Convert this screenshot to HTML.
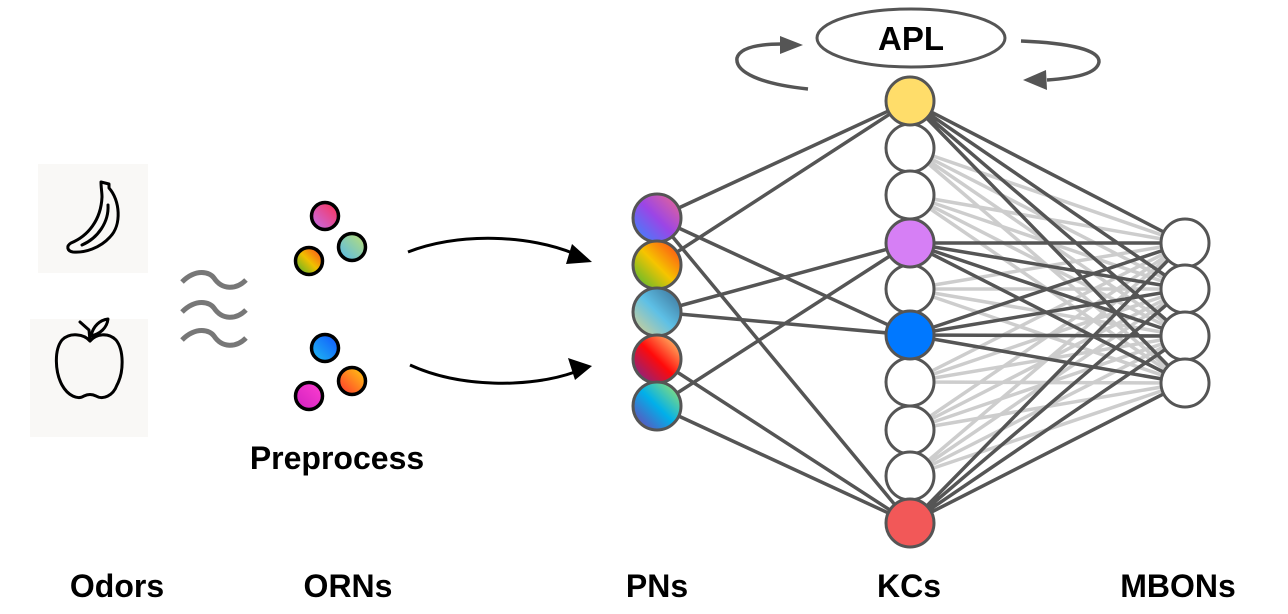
<!DOCTYPE html>
<html><head><meta charset="utf-8"><style>
html,body{margin:0;padding:0;background:#fff;}
svg{display:block;}
text{font-family:"Liberation Sans",Arial,sans-serif;font-weight:bold;fill:#000;}
</style></head><body>
<svg width="1288" height="614" viewBox="0 0 1288 614" xmlns="http://www.w3.org/2000/svg">
<defs>
<linearGradient id="p1" x1="0" y1="1" x2="1" y2="0"><stop offset="0" stop-color="#2f8cff"/><stop offset="0.5" stop-color="#9b45e6"/><stop offset="1" stop-color="#f06a8a"/></linearGradient>
<linearGradient id="p2" x1="0" y1="1" x2="1" y2="0"><stop offset="0" stop-color="#3cb83a"/><stop offset="0.5" stop-color="#f6c400"/><stop offset="1" stop-color="#ff3b1a"/></linearGradient>
<linearGradient id="p3" x1="0" y1="1" x2="1" y2="0"><stop offset="0" stop-color="#e2d28a"/><stop offset="0.5" stop-color="#5ec0e6"/><stop offset="1" stop-color="#3a6a90"/></linearGradient>
<linearGradient id="p4" x1="0" y1="1" x2="1" y2="0"><stop offset="0" stop-color="#6b2aa0"/><stop offset="0.5" stop-color="#ff0a0a"/><stop offset="1" stop-color="#ffe27a"/></linearGradient>
<linearGradient id="p5" x1="0" y1="1" x2="1" y2="0"><stop offset="0" stop-color="#7a3ab0"/><stop offset="0.5" stop-color="#00b0ea"/><stop offset="1" stop-color="#a8e860"/></linearGradient>
<linearGradient id="o1" x1="0" y1="1" x2="1" y2="0"><stop offset="0" stop-color="#c070f0"/><stop offset="1" stop-color="#ff3050"/></linearGradient>
<linearGradient id="o2" x1="0" y1="1" x2="1" y2="0"><stop offset="0" stop-color="#40b030"/><stop offset="0.5" stop-color="#f0c000"/><stop offset="1" stop-color="#ff4020"/></linearGradient>
<linearGradient id="o3" x1="0" y1="1" x2="1" y2="0"><stop offset="0" stop-color="#50b8f0"/><stop offset="1" stop-color="#c0e070"/></linearGradient>
<linearGradient id="o4" x1="0" y1="1" x2="1" y2="0"><stop offset="0" stop-color="#20c0f0"/><stop offset="1" stop-color="#1050ff"/></linearGradient>
<linearGradient id="o5" x1="0" y1="1" x2="1" y2="0"><stop offset="0" stop-color="#ff3030"/><stop offset="1" stop-color="#ffd010"/></linearGradient>
<linearGradient id="o6" x1="0" y1="1" x2="1" y2="0"><stop offset="0" stop-color="#d020c0"/><stop offset="1" stop-color="#ff40d0"/></linearGradient>
</defs>

<rect x="38" y="164" width="110" height="109" fill="#f9f8f6"/>
<rect x="30" y="319" width="118" height="118" fill="#f9f8f6"/>
<g fill="none" stroke="#000" stroke-width="3" stroke-linejoin="round" stroke-linecap="round">
<path d="M101 182 L109 184 L109 188 C120 200 122 225 110 237 C100 248 85 253 73 252 C67 251 66 246 71 243 C88 236 101 220 102 197 C102 192 101 188 101 182 Z"/>
<path d="M108 205 C109 222 98 238 82 245"/>
<path d="M90 341 C84 334 70 332 62 340 C54 350 55 372 62 385 C68 396 78 400 84 396 C88 394 92 394 96 396 C103 400 113 396 117 385 C124 372 124 350 116 340 C108 332 96 334 90 341 Z"/>
<path d="M90 341 L89 330 L80 322"/>
<path d="M91 336 C93 326 100 320 108 319 C107 328 100 334 91 336 Z"/>
</g>
<g fill="none" stroke="#777" stroke-width="5">
<path d="M182 282 C196 268 210 272 214 278 C222 290 236 290 246 280"/>
<path d="M182 312 C196 298 210 302 214 308 C222 320 236 320 246 310"/>
<path d="M182 340 C196 326 210 330 214 336 C222 348 236 348 246 338"/>
</g>
<g stroke="#000" stroke-width="3.5">
<circle cx="325" cy="216" r="13.5" fill="url(#o1)"/>
<circle cx="309" cy="261" r="13.5" fill="url(#o2)"/>
<circle cx="352" cy="247" r="13.5" fill="url(#o3)"/>
<circle cx="325" cy="348" r="13.5" fill="url(#o4)"/>
<circle cx="352" cy="381" r="13.5" fill="url(#o5)"/>
<circle cx="309" cy="396" r="13.5" fill="url(#o6)"/>
</g>
<g fill="none" stroke="#000" stroke-width="3">
<path d="M408 252 C460 232 530 235 575 254"/>
<path d="M410 365 C460 388 530 388 575 372"/>
</g>
<polygon points="592,262 572,244 566,264" fill="#000"/>
<polygon points="592,366 568,358 575,380" fill="#000"/>

<g stroke="rgba(130,130,130,0.4)" stroke-width="3.5">
<path d="M910 148L1185 243M910 148L1185 289M910 148L1185 336M910 148L1185 383
M910 195L1185 243M910 195L1185 289M910 195L1185 336M910 195L1185 383
M910 289L1185 243M910 289L1185 289M910 289L1185 336M910 289L1185 383
M910 382L1185 243M910 382L1185 289M910 382L1185 336M910 382L1185 383
M910 430L1185 243M910 430L1185 289M910 430L1185 336M910 430L1185 383
M910 476L1185 243M910 476L1185 289M910 476L1185 336M910 476L1185 383"/>
</g>
<g stroke="#555" stroke-width="3.5">
<path d="M910 101L1185 243M910 101L1185 289M910 101L1185 336M910 101L1185 383
M910 243L1185 243M910 243L1185 289M910 243L1185 336M910 243L1185 383
M910 335L1185 243M910 335L1185 289M910 335L1185 336M910 335L1185 383
M910 523L1185 243M910 523L1185 289M910 523L1185 336M910 523L1185 383"/>
<path d="M657 218L910 101M657 218L910 335M657 218L910 523
M657 265L910 101
M657 312L910 243M657 312L910 335
M657 359L910 523
M657 406L910 243M657 406L910 523"/>
</g>
<g stroke="#555" stroke-width="3">
<circle cx="657" cy="218" r="24" fill="url(#p1)"/>
<circle cx="657" cy="265" r="24" fill="url(#p2)"/>
<circle cx="657" cy="312" r="24" fill="url(#p3)"/>
<circle cx="657" cy="359" r="24" fill="url(#p4)"/>
<circle cx="657" cy="406" r="24" fill="url(#p5)"/>
</g>
<g stroke="#555" stroke-width="3" fill="#fff">
<circle cx="910" cy="148" r="24"/><circle cx="910" cy="195" r="24"/>
<circle cx="910" cy="289" r="24"/><circle cx="910" cy="382" r="24"/>
<circle cx="910" cy="430" r="24"/><circle cx="910" cy="476" r="24"/>
<circle cx="910" cy="101" r="24" fill="#ffdd6a"/>
<circle cx="910" cy="243" r="24" fill="#d67ff5"/>
<circle cx="910" cy="335" r="24" fill="#0078ff"/>
<circle cx="910" cy="523" r="24" fill="#f25858"/>
</g>
<g stroke="#555" stroke-width="3" fill="#fff">
<circle cx="1185" cy="243" r="24"/><circle cx="1185" cy="289" r="24"/>
<circle cx="1185" cy="336" r="24"/><circle cx="1185" cy="383" r="24"/>
</g>
<ellipse cx="911" cy="38" rx="94" ry="29" fill="#fff" stroke="#555" stroke-width="3"/>
<text x="911" y="50" font-size="33" text-anchor="middle">APL</text>
<g fill="none" stroke="#555" stroke-width="3.5">
<path d="M808 89 C760 84 735 72 737 58 C740 47 760 44 782 44"/>
<path d="M1021 41 C1070 43 1100 50 1099 62 C1097 74 1075 78 1047 80"/>
</g>
<polygon points="803,45 780,36 780,54" fill="#555"/>
<polygon points="1023,80 1046,70 1047,90" fill="#555"/>

<text x="337" y="469" font-size="32" text-anchor="middle">Preprocess</text>
<text x="117" y="597" font-size="32" text-anchor="middle">Odors</text>
<text x="348" y="597" font-size="32" text-anchor="middle">ORNs</text>
<text x="657" y="597" font-size="32" text-anchor="middle">PNs</text>
<text x="909" y="597" font-size="32" text-anchor="middle">KCs</text>
<text x="1178" y="597" font-size="32" text-anchor="middle">MBONs</text>
</svg>
</body></html>
